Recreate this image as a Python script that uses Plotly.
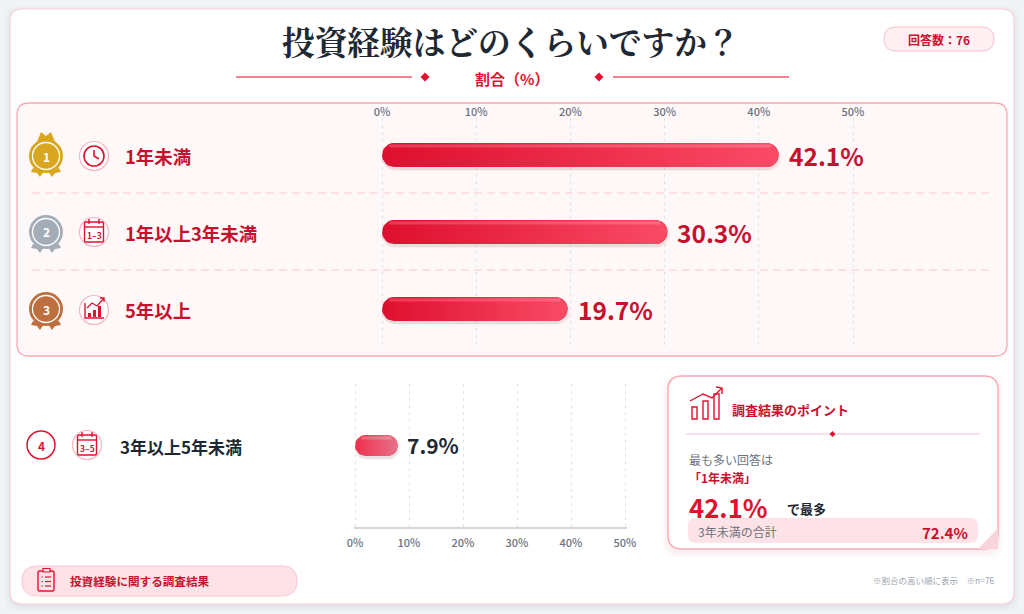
import numpy as np
import plotly.graph_objects as go

# data
top_labels = ['1年未満', '1年以上3年未満', '5年以上']
top_values = [42.1, 30.3, 19.7]
rest_labels = ['3年以上5年未満']
rest_values = [7.9]
tick_vals = [0, 10, 20, 30, 40, 50]
tick_text = ['0%', '10%', '20%', '30%', '40%', '50%']
n_answers = 76
total_under_3 = 72.4

W, H = 1024, 614
JP = 'Noto Sans CJK JP'
SERIF = 'Noto Serif CJK JP, Noto Sans CJK JP, serif'
RED = '#e0122f'
CRIMSON = '#c8102e'
INK = '#1f2933'
GRAY = '#6b7280'

ROW_PX = 77
ROW0_PX = 155
SX1 = 9.42
SX2 = 5.4
BAR1_H = 24
BAR2_H = 21
# plotly drops gridlines right on the axis ends, so the axes run a little past 0 and 50
END_PX = 1.5


def px(x):
    return x / W


def py(y):
    return 1 - y / H


def path(points, close=True):
    parts = [('M' if i == 0 else 'L') + f'{px(x):.5f},{py(y):.5f}' for i, (x, y) in enumerate(points)]
    return ' '.join(parts) + (' Z' if close else '')


def round_rect_path(x0, y0, x1, y1, r):
    def p(x, y):
        return f'{px(x):.5f},{py(y):.5f}'
    return (f'M{p(x0 + r, y0)} L{p(x1 - r, y0)} Q{p(x1, y0)} {p(x1, y0 + r)} '
            f'L{p(x1, y1 - r)} Q{p(x1, y1)} {p(x1 - r, y1)} '
            f'L{p(x0 + r, y1)} Q{p(x0, y1)} {p(x0, y1 - r)} '
            f'L{p(x0, y0 + r)} Q{p(x0, y0)} {p(x0 + r, y0)} Z')


shapes = []


def add_round_rect(x0, y0, x1, y1, r, fill, line=None, width=1):
    shapes.append(dict(type='path', path=round_rect_path(x0, y0, x1, y1, r), xref='paper', yref='paper',
                       fillcolor=fill, line=dict(color=line or 'rgba(0,0,0,0)', width=width if line else 0),
                       layer='below'))


def add_rect(x0, y0, x1, y1, fill='rgba(0,0,0,0)', line=None, width=1):
    shapes.append(dict(type='rect', x0=px(x0), x1=px(x1), y0=py(y0), y1=py(y1), xref='paper', yref='paper',
                       fillcolor=fill, line=dict(color=line or 'rgba(0,0,0,0)', width=width if line else 0),
                       layer='below'))


def add_circle(cx, cy, r, fill='rgba(0,0,0,0)', line=None, width=1):
    shapes.append(dict(type='circle', x0=px(cx - r), x1=px(cx + r), y0=py(cy + r), y1=py(cy - r),
                       xref='paper', yref='paper', fillcolor=fill,
                       line=dict(color=line or 'rgba(0,0,0,0)', width=width if line else 0), layer='below'))


def add_line(points, color, width=1, dash=None):
    shapes.append(dict(type='path', path=path(points, close=False), xref='paper', yref='paper',
                       line=dict(color=color, width=width, dash=dash), layer='below'))


def add_poly(points, fill):
    shapes.append(dict(type='path', path=path(points), xref='paper', yref='paper',
                       fillcolor=fill, line=dict(width=0), layer='below'))


annotations = []


def label(x, y, text, size, color, bold=False, anchor='left', family=JP):
    # annotations carry about 2px of padding round the text
    nudge = {'left': -2, 'right': 2, 'center': 0}[anchor]
    annotations.append(dict(x=px(x + nudge), y=py(y), xref='paper', yref='paper',
                            text=f'<b>{text}</b>' if bold else text,
                            showarrow=False, xanchor=anchor, yanchor='middle', align=anchor,
                            font=dict(family=family, size=size, color=color)))


def medal(cy, color, peaks=False):
    cx = 46
    if peaks:
        add_poly([(37, cy - 14), (41, cy - 24), (46, cy - 20), (51, cy - 24), (55, cy - 14)], color)
    for sign in (-1, 1):
        add_poly([(cx + sign * 13, cy + 12), (cx + sign * 15, cy + 16), (cx + sign * 9, cy + 17),
                  (cx + sign * 6, cy + 21), (cx + sign * 2, cy + 15)], color)
    add_circle(cx, cy, 17, fill=color)
    add_circle(cx, cy, 13.5, fill=color, line='white', width=1.3)


def icon_ring(cx, cy):
    add_circle(cx, cy, 14.5, fill='white', line='#f9b4c0', width=1.2)


def calendar(cx, cy, text):
    icon_ring(cx, cy)
    add_round_rect(cx - 9.5, cy - 10, cx + 9.5, cy + 10, 1.5, 'rgba(0,0,0,0)', RED, 1.4)
    add_line([(cx - 9.5, cy - 5), (cx + 9.5, cy - 5)], RED, 1.4)
    add_line([(cx - 5, cy - 13), (cx - 5, cy - 8)], RED, 1.4)
    add_line([(cx + 5, cy - 13), (cx + 5, cy - 8)], RED, 1.4)
    label(cx, cy + 2.5, text, 8.5, CRIMSON, True, 'center')


def pill_xy(value, row, h_px, sx, offset_px=0.0):
    r = h_px / 2
    t = np.linspace(-np.pi / 2, np.pi / 2, 14)
    rx, ry = r / sx, r / ROW_PX
    mid = row + offset_px / ROW_PX
    xs = np.concatenate([value - rx + rx * np.cos(t), rx - rx * np.cos(t), [value - rx]])
    ys = np.concatenate([mid + ry * np.sin(t), mid - ry * np.sin(t), [mid - ry]])
    return xs, ys


# page and panels
add_rect(0, 0, W, H, fill='#f1f3f5')
for grow, alpha in ((5, 0.02), (3, 0.025), (1, 0.03)):
    add_round_rect(10 - grow, 9 - grow + 2, 1014 + grow, 604 + grow + 2, 14, f'rgba(60,70,90,{alpha})')
add_round_rect(10, 9, 1014, 604, 12, 'white', '#fbd0d7', 1.2)
add_round_rect(17, 103, 1007, 356, 12, '#fff8f9', '#f9a8b4', 1.3)

# header
add_line([(236, 77), (412, 77)], '#ec5a6e', 1.5)
add_line([(613, 77), (789, 77)], '#ec5a6e', 1.5)
for dx in (425, 599):
    add_poly([(dx - 4.5, 77), (dx, 72.5), (dx + 4.5, 77), (dx, 81.5)], RED)
label(511, 40, '投資経験はどのくらいですか？', 32.7, INK, True, 'center', SERIF)
label(512, 78, '割合（%）', 15, RED, True, 'center')
add_round_rect(884, 27, 994, 51, 12, '#fff0f3', '#f9c0ca', 1)
label(939, 39, f'回答数：{n_answers}', 12, CRIMSON, True, 'center')

# row separators
for sep_y in (193, 270):
    add_line([(32, sep_y), (992, sep_y)], '#fbc8d2', 1, '8px,5px')

# medals and icons
medal(156, '#d9a61f', peaks=True)
medal(232, '#a3adb8')
medal(309, '#bd6f3f')
for i, my in enumerate((156, 232, 309)):
    label(46, my, str(i + 1), 12, 'white', True, 'center')

icon_ring(94, 156)
add_circle(94, 156, 10, line=RED, width=1.6)
add_line([(94, 150), (94, 156), (99, 159)], RED, 1.6)
calendar(94, 232, '1–3')
icon_ring(94, 310)
add_line([(85, 303), (85, 318), (104, 318)], RED, 1.4)
add_rect(88, 313, 91, 317, fill=RED)
add_rect(93, 310, 96, 317, fill=RED)
add_rect(98, 306, 101, 317, fill=RED)
add_line([(87, 308), (92, 303), (97, 306), (104, 298)], RED, 1.3)
add_line([(100, 298), (104, 298), (104, 302)], RED, 1.3)

for i, name in enumerate(top_labels):
    label(125, ROW0_PX + 1 + i * ROW_PX, name, 18.4, CRIMSON, True)

# fourth row
add_circle(41, 445, 14, fill='white', line=RED, width=1.5)
label(41, 445, '4', 12, RED, True, 'center')
calendar(87, 445, '3–5')
label(120, 446, rest_labels[0], 17, INK, True)

# point card
for grow, alpha in ((6, 0.015), (4, 0.02), (2, 0.03)):
    add_round_rect(668 - grow, 376 - grow + 3, 998 + grow, 549 + grow + 3, 14, f'rgba(200,40,60,{alpha})')
add_round_rect(668, 376, 998, 549, 14, 'white', '#f9a8b4', 1.4)
add_poly([(978, 549), (998, 549), (998, 528)], '#f9d5db')
add_rect(692, 407, 697, 419, line=RED, width=1.4)
add_rect(703, 401, 708, 419, line=RED, width=1.4)
add_rect(714, 394, 719, 419, line=RED, width=1.4)
add_line([(690, 401), (703, 394), (712, 398), (722, 388)], RED, 1.4)
add_line([(716, 387), (722, 388), (722, 394)], RED, 1.4)
label(732, 409, '調査結果のポイント', 13, CRIMSON, True)
add_line([(686, 434), (980, 434)], '#f9d5db', 1.5)
add_poly([(829.5, 434), (832.5, 431), (835.5, 434), (832.5, 437)], RED)
label(689, 459, '最も多い回答は', 12, GRAY)
label(689, 477, f'「{top_labels[0]}」', 12, CRIMSON, True)
label(689, 506, f'{top_values[0]}%', 25.7, RED, True)
label(787, 508, 'で最多', 13, INK, True)
add_round_rect(688, 518, 978, 543, 8, '#fde2e7')
label(698, 531.5, '3年未満の合計', 12, GRAY)
label(968, 532, f'{total_under_3}%', 15, CRIMSON, True, 'right')

# footer
add_round_rect(22, 566, 297, 596, 15, '#fde2e7', '#fbc8d2', 1)
add_round_rect(38, 571, 54, 591, 1.5, 'rgba(0,0,0,0)', RED, 1.4)
add_rect(43, 568.5, 50, 572, fill='#fde2e7', line=RED, width=1.2)
for ly in (577, 581.5, 586):
    add_line([(41.5, ly), (43, ly)], RED, 1.2)
    add_line([(45, ly), (51, ly)], RED, 1.2)
label(70, 581, '投資経験に関する調査結果', 11.6, CRIMSON, True)
label(995, 580, '※割合の高い順に表示　※n=76', 8.5, '#9ca3af', anchor='right')

fig = go.Figure()


def add_bars(values, rows, xaxis, yaxis, sx, h_px, c0, c1, shine, text_color, text_size, text_gap):
    r = h_px / 2 / sx
    fig.add_trace(go.Bar(x=[v - r for v in values], base=r, y=rows, orientation='h', width=h_px / ROW_PX,
                         xaxis=xaxis, yaxis=yaxis,
                         marker=dict(color=c0, cornerradius=h_px / 2, line=dict(width=0)),
                         showlegend=False, hoverinfo='skip'))
    for value, row in zip(values, rows):
        for grow, alpha in ((3, 0.05), (1, 0.08)):
            xs, ys = pill_xy(value + grow / sx, row, h_px + grow, sx, offset_px=2.5)
            fig.add_trace(go.Scatter(x=xs, y=ys, xaxis=xaxis, yaxis=yaxis, mode='lines', fill='toself',
                                     fillcolor=f'rgba(120,30,40,{alpha})', line=dict(width=0),
                                     showlegend=False, hoverinfo='skip'))
        xs, ys = pill_xy(value, row, h_px, sx)
        fig.add_trace(go.Scatter(x=xs, y=ys, xaxis=xaxis, yaxis=yaxis, mode='lines', fill='toself',
                                 fillgradient=dict(type='horizontal', colorscale=[[0, c0], [1, c1]]),
                                 line=dict(width=0), showlegend=False, hoverinfo='skip'))
        band_y = row - (h_px / 2 - 3) / ROW_PX
        fig.add_trace(go.Scatter(x=[h_px * 0.3 / sx, value - h_px * 0.3 / sx], y=[band_y, band_y],
                                 xaxis=xaxis, yaxis=yaxis, mode='lines', line=dict(color=shine, width=3),
                                 showlegend=False, hoverinfo='skip'))
        annotations.append(dict(x=value, y=row, xref=xaxis, yref=yaxis, xshift=text_gap, text=f'<b>{value}%</b>',
                                showarrow=False, xanchor='left', yanchor='middle',
                                font=dict(family=JP, size=text_size, color=text_color)))


add_bars(top_values, [0, 1, 2], 'x', 'y', SX1, BAR1_H, '#de0f2e', '#f94b66', 'rgba(255,255,255,0.18)', CRIMSON, 24.5, 8)
add_bars(rest_values, [3], 'x2', 'y2', SX2, BAR2_H, '#ee2f4c', '#e8728a', 'rgba(255,255,255,0.22)', INK, 21, 7)

axis_common = dict(tickvals=tick_vals, ticktext=tick_text, showgrid=True, gridcolor='#e2e3e8',
                   griddash='3px,4px', gridwidth=1, zeroline=False, ticks='',
                   tickfont=dict(family=JP, size=11, color=GRAY, weight=500))
y_common = dict(showticklabels=False, showgrid=False, zeroline=False, ticks='')

fig.update_layout(
    width=W, height=H, margin=dict(l=0, r=0, t=0, b=0, autoexpand=False), paper_bgcolor='white',
    plot_bgcolor='rgba(0,0,0,0)',
    barmode='overlay', showlegend=False, shapes=shapes, annotations=annotations,
    xaxis=dict(domain=[px(382 - END_PX), px(853 + END_PX)], range=[-END_PX / SX1, 50 + END_PX / SX1],
               side='top', anchor='y', showline=False, ticklabelstandoff=-1, **axis_common),
    yaxis=dict(domain=[py(345), py(118)], range=[(345 - ROW0_PX) / ROW_PX, (118 - ROW0_PX) / ROW_PX],
               anchor='x', **y_common),
    xaxis2=dict(domain=[px(355 - END_PX), px(625 + END_PX)], range=[-END_PX / SX2, 50 + END_PX / SX2],
                side='bottom', anchor='y2', showline=True, linecolor='#d5d6de',
                linewidth=1.5, ticklabelstandoff=5, **axis_common),
    yaxis2=dict(domain=[py(527), py(384)], range=[3 + (527 - 445.5) / ROW_PX, 3 - (445.5 - 384) / ROW_PX],
                anchor='x2', **y_common),
)

# body has a default margin that would push the page off the window
fig.write_html("out.html", config={'displayModeBar': False}, post_script="document.body.style.margin = '0';")
